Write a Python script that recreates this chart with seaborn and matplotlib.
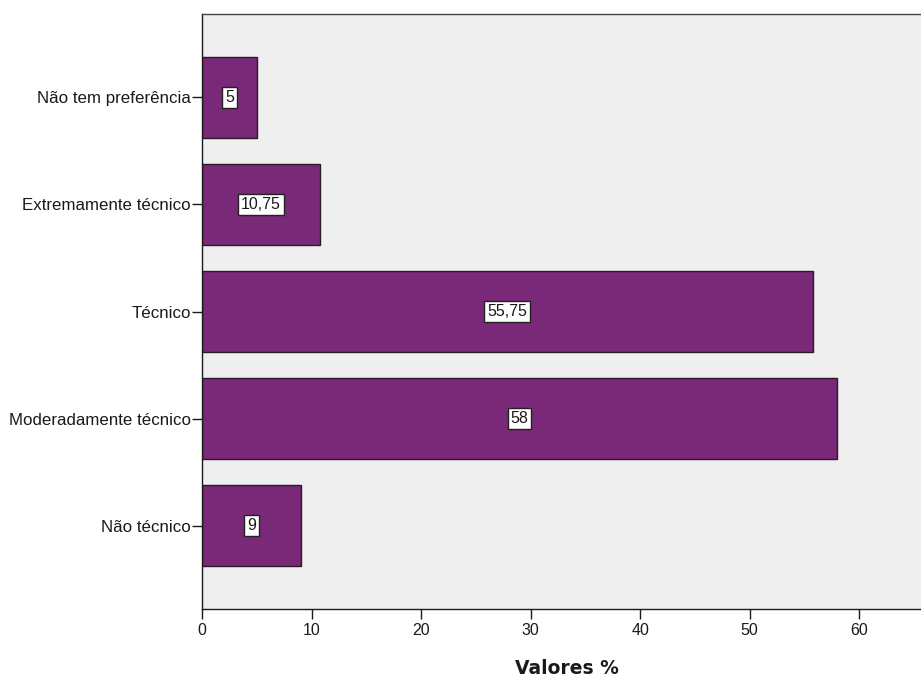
import matplotlib
matplotlib.use("Agg")
import matplotlib.pyplot as plt
import seaborn as sns
import pandas as pd

categorias = ["Não tem preferência", "Extremamente técnico", "Técnico",
              "Moderadamente técnico", "Não técnico"]
valores = [5, 10.75, 55.75, 58, 9]
rotulos = ["5", "10,75", "55,75", "58", "9"]
ticks_x = [0, 10, 20, 30, 40, 50, 60]

sns.set_style("white")
plt.rcParams["font.family"] = ["Liberation Sans", "DejaVu Sans"]

df = pd.DataFrame({"categoria": categorias, "valor": valores})

fig = plt.figure(figsize=(9.21, 6.79), dpi=100)
ax = fig.add_axes([202 / 921, 1 - 609 / 679, 1 - 202 / 921, (609 - 14) / 679])
ax.set_facecolor("#efefef")

sns.barplot(data=df, x="valor", y="categoria", orient="h", order=categorias,
            color="#7a2878", saturation=1, width=0.75,
            edgecolor="#2a1a2a", linewidth=1.0, ax=ax)

# value labels in white boxes at the middle of each bar
for i, (v, txt) in enumerate(zip(valores, rotulos)):
    ax.text(v / 2, i, txt, ha="center", va="center", fontsize=11.5,
            color="#1a1a1a",
            bbox=dict(boxstyle="square,pad=0.18", facecolor="white",
                      edgecolor="#222222", linewidth=1.0))

ax.set_xlim(0, 65.65)
ax.set_ylim(len(categorias) - 1 + 0.78, -0.78)
ax.set_xticks(ticks_x)
ax.set_xticklabels([str(t) for t in ticks_x])
ax.set_xlabel("Valores %", fontsize=13.5, fontweight="bold",
              family="DejaVu Sans", color="#1a1a1a")
ax.xaxis.set_label_coords((567 - 202) / 719, -(668 - 609) / 595)
ax.xaxis.label.set_verticalalignment("center")
ax.set_ylabel("")

ax.tick_params(axis="both", which="both", direction="out", length=7,
               width=1.0, color="#1a1a1a", labelsize=11.5, labelcolor="#1a1a1a",
               left=True, bottom=True)
ax.tick_params(axis="y", pad=1, labelsize=12.2)
ax.tick_params(axis="x", pad=3)

for side in ["left", "bottom", "top"]:
    ax.spines[side].set_visible(True)
    ax.spines[side].set_color("#1a1a1a")
    ax.spines[side].set_linewidth(1.0)
ax.spines["top"].set_color("#444444")
ax.spines["right"].set_visible(False)

fig.savefig("out.png", dpi=100)
